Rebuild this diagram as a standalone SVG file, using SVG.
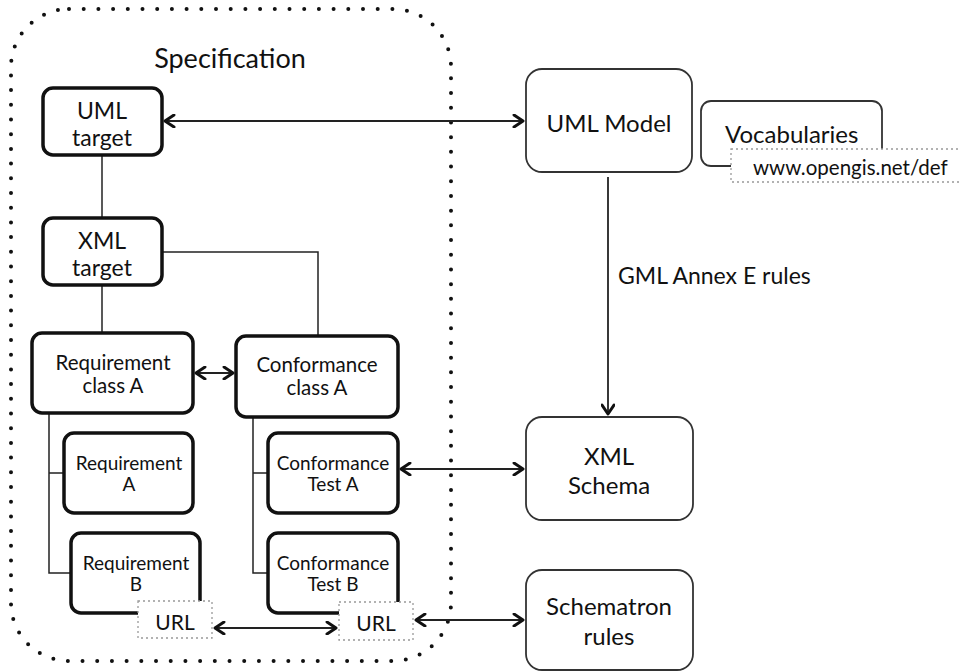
<svg xmlns="http://www.w3.org/2000/svg" width="960" height="672" viewBox="0 0 960 672">
<defs>
<marker id="ah" markerWidth="14" markerHeight="14" refX="11" refY="7" orient="auto-start-reverse" markerUnits="userSpaceOnUse">
<path d="M2,1 L11,7 L2,13" fill="none" stroke="#111" stroke-width="3" stroke-linecap="round" stroke-linejoin="round"/>
</marker>
<style>
text{font-family:Lato,"Liberation Sans",sans-serif;fill:#111;text-anchor:middle}
.sb{fill:#fff;stroke:#111;stroke-width:3.5}
.rb{fill:#fff;stroke:#333;stroke-width:1.8}
.ln{fill:none;stroke:#222;stroke-width:1.5}
.ar{fill:none;stroke:#222;stroke-width:1.8;marker-start:url(#ah);marker-end:url(#ah)}
.url{fill:#fff;stroke:#999;stroke-width:1.3;stroke-dasharray:2 3}
.t18{font-size:20.5px}
.t17{font-size:19px}
.t21{font-size:23px}
.t24{font-size:24px}
</style>
</defs>
<rect width="960" height="672" fill="#fff"/>
<g id="specification">
<rect x="11" y="9" width="440" height="652" rx="58" fill="none" stroke="#111" stroke-width="4" stroke-linecap="round" stroke-dasharray="0 14.7"/>
<text x="230" y="68" style="font-size:27px">Specification</text>
</g>
<g id="connectors">
<path class="ln" d="M102,155 V218"/>
<path class="ln" d="M102,285 V333"/>
<path class="ln" d="M162,252 H318 V336"/>
<path class="ln" d="M49,413 V573 H71 M49,473 H64"/>
<path class="ln" d="M253,417 V573 H268 M253,473 H268"/>
<path class="ar" d="M165,121 H523"/>
<path class="ar" d="M196,373 H233"/>
<path class="ar" d="M401,469 H523"/>
<path class="ar" d="M215,628 H336"/>
<path class="ar" d="M416,620 H523"/>
<path fill="none" stroke="#222" stroke-width="1.8" marker-end="url(#ah)" d="M608,177 V414"/>
<text x="618" y="284" class="t21" style="text-anchor:start">GML Annex E rules</text>
</g>
<g id="uml-target">
<rect class="sb" x="43" y="88" width="119" height="67" rx="10"/>
<text x="102" y="119" class="t21">UML</text>
<text x="102" y="146" class="t21">target</text>
</g>
<g id="xml-target">
<rect class="sb" x="43" y="218" width="119" height="67" rx="10"/>
<text x="102" y="249" class="t21">XML</text>
<text x="102" y="276" class="t21">target</text>
</g>
<g id="req-class-a">
<rect class="sb" x="32" y="333" width="161" height="80" rx="10"/>
<text x="113" y="370" class="t18">Requirement</text>
<text x="113" y="393" class="t18">class A</text>
</g>
<g id="conf-class-a">
<rect class="sb" x="236" y="336" width="162" height="81" rx="10"/>
<text x="317" y="372" class="t18">Conformance</text>
<text x="317" y="395" class="t18">class A</text>
</g>
<g id="req-a">
<rect class="sb" x="64" y="433" width="129" height="80" rx="10"/>
<text x="129" y="470" class="t17">Requirement</text>
<text x="129" y="491" class="t17">A</text>
</g>
<g id="req-b">
<rect class="sb" x="71" y="533" width="129" height="80" rx="10"/>
<text x="136" y="570" class="t17">Requirement</text>
<text x="136" y="591" class="t17">B</text>
</g>
<g id="conf-test-a">
<rect class="sb" x="268" y="433" width="130" height="80" rx="10"/>
<text x="333" y="470" class="t17">Conformance</text>
<text x="333" y="491" class="t17">Test A</text>
</g>
<g id="conf-test-b">
<rect class="sb" x="268" y="533" width="130" height="80" rx="10"/>
<text x="333" y="570" class="t17">Conformance</text>
<text x="333" y="591" class="t17">Test B</text>
</g>
<g id="url-1">
<rect class="url" x="138" y="601" width="74" height="37"/>
<text x="175" y="630" style="font-size:21px">URL</text>
</g>
<g id="url-2">
<rect class="url" x="339" y="602" width="74" height="38"/>
<text x="376" y="631" style="font-size:21px">URL</text>
</g>
<g id="uml-model">
<rect class="rb" x="526" y="69" width="166" height="103" rx="16"/>
<text x="609" y="132" class="t24">UML Model</text>
</g>
<g id="vocabularies">
<rect class="rb" x="701" y="101" width="181" height="65" rx="10"/>
<text x="725" y="143" class="t24" style="text-anchor:start">Vocabularies</text>
<rect class="url" x="731" y="149" width="240" height="33"/>
<text x="753" y="175" style="font-size:20.5px;text-anchor:start">www.opengis.net/def</text>
</g>
<g id="xml-schema">
<rect class="rb" x="526" y="417" width="167" height="103" rx="16"/>
<text x="609" y="465" class="t24">XML</text>
<text x="609" y="494" class="t24">Schema</text>
</g>
<g id="schematron">
<rect class="rb" x="526" y="570" width="167" height="100" rx="16"/>
<text x="609" y="615" class="t24">Schematron</text>
<text x="609" y="645" class="t24">rules</text>
</g>
</svg>
